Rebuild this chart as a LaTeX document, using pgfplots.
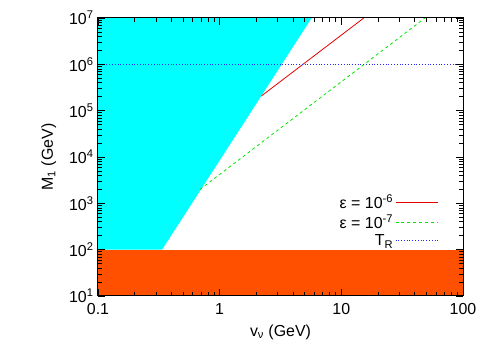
\documentclass[border=0pt]{standalone}
\usepackage{fontspec}
\setmainfont{Liberation Sans}
\usepackage{pgfplots}
\pgfplotsset{compat=1.18}
\definecolor{band}{RGB}{255,80,0}
\definecolor{gpcyan}{RGB}{0,255,255}
\definecolor{gpred}{RGB}{230,0,0}
\definecolor{gpgreen}{RGB}{0,230,0}
\definecolor{gpblue}{RGB}{40,40,255}
\begin{document}
\begin{tikzpicture}[x=1bp,y=1bp]
\begin{axis}[
    scale only axis,
    width=365bp, height=278bp,
    xmode=log, ymode=log,
    xmin=0.1, xmax=100,
    ymin=10, ymax=1e7,
    xtick={0.1,1,10,100},
    xticklabels={0.1,1,10,100},
    ytick={10,100,1000,10000,100000,1000000,10000000},
    yticklabels={10\textsuperscript{1},10\textsuperscript{2},10\textsuperscript{3},10\textsuperscript{4},10\textsuperscript{5},10\textsuperscript{6},10\textsuperscript{7}},
    tick label style={font=\fontsize{16}{18}\selectfont},
    xticklabel style={yshift=-4bp},
    yticklabel style={xshift=-1bp},
    xlabel={v\textsubscript{ν} (GeV)},
    ylabel={M\textsubscript{1} (GeV)},
    label style={font=\fontsize{16}{18}\selectfont},
    xlabel style={yshift=-3bp},
    ylabel style={yshift=6bp},
    axis line style={line width=1bp},
    major tick length=7bp,
    minor tick length=4bp,
    tick style={black, line width=0.6bp},
    axis on top,
    legend cell align=right,
    legend plot pos=right,
    legend style={draw=none, fill=none, at={(0.94,0.38)}, anchor=north east,
        font=\fontsize{16}{18}\selectfont, row sep=0.5bp},
    legend image code/.code={\draw[#1] (0bp,0bp) -- (42bp,0bp);},
]
% excluded regions
\addplot[fill=gpcyan, draw=none, forget plot] coordinates {
    (0.1,100) (0.336,100) (5.7,1e7) (0.1,1e7)
} -- cycle;
\addplot[fill=band, draw=none, forget plot] coordinates {
    (0.1,10) (100,10) (100,100) (0.1,100)
} -- cycle;
% epsilon curves
\addplot[gpred, line width=0.8bp] coordinates {
    (2.21,2.09e5) (15.3,1e7)
};
\addlegendentry{ε = 10\textsuperscript{-6}}
\addplot[gpgreen, line width=0.8bp, dashed] coordinates {
    (0.69,2.0e3) (48.7,1e7)
};
\addlegendentry{ε = 10\textsuperscript{-7}}
\addplot[gpblue, line width=0.8bp, dotted] coordinates {
    (0.1,1e6) (100,1e6)
};
\addlegendentry{T\textsubscript{R}}
\end{axis}
\path (current axis.south west) ++(-98bp,-47bp) coordinate (bl);
\path (current axis.north east) ++(28bp,18bp) coordinate (tr);
\useasboundingbox (bl) rectangle (tr);
\end{tikzpicture}
\end{document}
